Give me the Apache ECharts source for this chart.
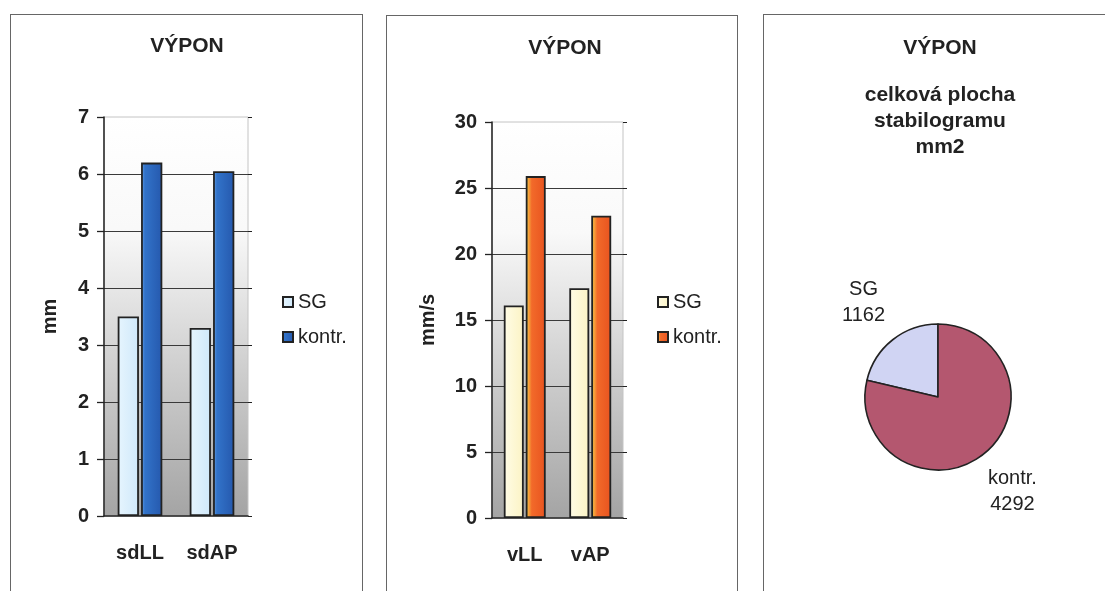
<!DOCTYPE html>
<html><head><meta charset="utf-8">
<script src="https://cdn.jsdelivr.net/npm/echarts@6/dist/echarts.min.js"></script>
<style>
html,body{margin:0;padding:0;width:1105px;height:591px;overflow:hidden;background:#fff;}
.panel{position:absolute;border:1px solid #666;box-sizing:border-box;}
.chart{position:absolute;left:0;top:0;width:1105px;height:591px;}
</style></head><body>
<div class="panel" style="left:10px;top:14px;width:353px;height:620px"></div>
<div class="panel" style="left:386px;top:15px;width:352px;height:620px"></div>
<div class="panel" style="left:763px;top:14px;width:360px;height:620px"></div>
<div id="c1" class="chart"></div>
<div id="c2" class="chart"></div>
<div id="c3" class="chart"></div>
<script>
// ---- data ----
const titleText = 'VÝPON';
const seriesNames = ['SG', 'kontr.'];

const sdCategories = ['sdLL', 'sdAP'];
const sdSG = [3.5, 3.3];
const sdKontr = [6.2, 6.05];
const sdAxis = [0, 7, 1];          // min, max, interval
const sdUnit = 'mm';

const vCategories = ['vLL', 'vAP'];
const vSG = [16.1, 17.4];
const vKontr = [25.9, 22.9];
const vAxis = [0, 30, 5];
const vUnit = 'mm/s';

const pieTitle = 'celková plocha\nstabilogramu\nmm2';
const pieNames = ['SG', 'kontr.'];
const pieValues = [1162, 4292];

// ---- styling ----
const FF = 'Liberation Sans, Arial, sans-serif';
const DARK = '#222';

function lin(h, stops) {
  return {type: 'linear', x: 0, y: 0, x2: h ? 1 : 0, y2: h ? 0 : 1,
    colorStops: stops.map(s => ({offset: s[0], color: s[1]}))};
}
const plotBg = lin(false, [[0, '#ffffff'], [0.28, '#f9f9f9'], [0.6, '#d2d2d2'], [1, '#a4a4a4']]);

function barOption(cfg) {
  return {
    animation: false,
    title: {text: titleText, left: cfg.titleX, top: cfg.titleTop, textAlign: 'center', padding: 0,
      textStyle: {fontFamily: FF, fontSize: 21, fontWeight: 'bold', color: DARK, lineHeight: 26}},
    legend: {orient: 'vertical', left: cfg.legendX, top: 287, itemWidth: 10, itemHeight: 10, itemGap: 15,
      icon: 'rect', textStyle: {fontFamily: FF, fontSize: 20, color: DARK}, data: seriesNames},
    grid: {left: cfg.left, top: cfg.top, width: cfg.width, height: cfg.height, show: true,
      backgroundColor: plotBg, borderColor: '#c4c4c4', borderWidth: 1, containLabel: false},
    xAxis: {type: 'category', data: cfg.cats,
      axisLine: {show: true, lineStyle: {color: DARK, width: 1.5}},
      axisTick: {show: false},
      axisLabel: {margin: 27, fontFamily: FF, fontSize: 20, fontWeight: 'bold', color: DARK}},
    yAxis: [{type: 'value', min: cfg.axis[0], max: cfg.axis[1], interval: cfg.axis[2],
      name: cfg.unit, nameLocation: 'middle', nameGap: cfg.nameGap,
      nameTextStyle: {fontFamily: FF, fontSize: 20, fontWeight: 'bold', color: DARK},
      axisLine: {show: true, lineStyle: {color: DARK, width: 1.5}},
      axisTick: {show: true, length: 7, lineStyle: {color: DARK, width: 1.3}},
      axisLabel: {margin: 15, fontFamily: FF, fontSize: 20, fontWeight: 'bold', color: DARK},
      splitLine: {show: true, showMaxLine: false, showMinLine: false, lineStyle: {color: '#3a3a3a', width: 1.2}}},
      {type: 'value', position: 'right', min: cfg.axis[0], max: cfg.axis[1], interval: cfg.axis[2],
      axisLine: {show: false}, axisTick: {show: true, length: 4, lineStyle: {color: DARK}},
      axisLabel: {show: false}, splitLine: {show: false}}],
    series: [
      {name: seriesNames[0], type: 'bar', data: cfg.sg, barGap: '10%', barCategoryGap: cfg.catGap,
        itemStyle: {color: cfg.sgColor, borderColor: DARK, borderWidth: 1.8}},
      {name: seriesNames[1], type: 'bar', data: cfg.kontr,
        itemStyle: {color: cfg.kColor, borderColor: DARK, borderWidth: 1.8}}
    ]
  };
}

const c1 = echarts.init(document.getElementById('c1'));
c1.setOption(barOption({
  titleX: 187, titleTop: 33, legendX: 277,
  left: 104, top: 117, width: 144, height: 399,
  cats: sdCategories, sg: sdSG, kontr: sdKontr, axis: sdAxis, unit: sdUnit, nameGap: 44,
  catGap: '38%',
  sgColor: lin(true, [[0, '#e6f5fe'], [1, '#cfe8fa']]),
  kColor: lin(true, [[0, '#6aa6ea'], [0.18, '#3273c9'], [1, '#2558ad']])
}));

const c2 = echarts.init(document.getElementById('c2'));
c2.setOption(barOption({
  titleX: 565, titleTop: 35, legendX: 652,
  left: 492, top: 122, width: 131, height: 396,
  cats: vCategories, sg: vSG, kontr: vKontr, axis: vAxis, unit: vUnit, nameGap: 54,
  catGap: '36%',
  sgColor: lin(true, [[0, '#fffce6'], [1, '#fbf3c4']]),
  kColor: lin(true, [[0, '#f7dc4c'], [0.15, '#f6a23a'], [0.3, '#f26a2a'], [1, '#e8531f']])
}));

const c3 = echarts.init(document.getElementById('c3'));
c3.setOption({
  animation: false,
  title: [
    {text: titleText, left: 940, top: 35, textAlign: 'center', padding: 0,
      textStyle: {fontFamily: FF, fontSize: 21, fontWeight: 'bold', color: DARK, lineHeight: 26}},
    {text: pieTitle, left: 940, top: 82, textAlign: 'center', padding: 0,
      textStyle: {fontFamily: FF, fontSize: 21, fontWeight: 'bold', color: DARK, lineHeight: 26}}
  ],
  series: [{
    type: 'pie', center: [938, 397], radius: 73, startAngle: 90, clockwise: false,
    avoidLabelOverlap: false, silent: true,
    data: pieNames.map((n, i) => ({name: n, value: pieValues[i]})),
    color: ['#d0d4f3', '#b4576f'],
    itemStyle: {borderColor: DARK, borderWidth: 1.6},
    label: {show: true, position: 'outside', formatter: '{b}\n{c}', distanceToLabelLine: 0,
      fontFamily: FF, fontSize: 20, lineHeight: 26, color: DARK},
    labelLine: {show: false, length: 47, length2: 0},
    labelLayout: {align: 'center'},
    emphasis: {disabled: true}
  }]
});
</script>
</body></html>
